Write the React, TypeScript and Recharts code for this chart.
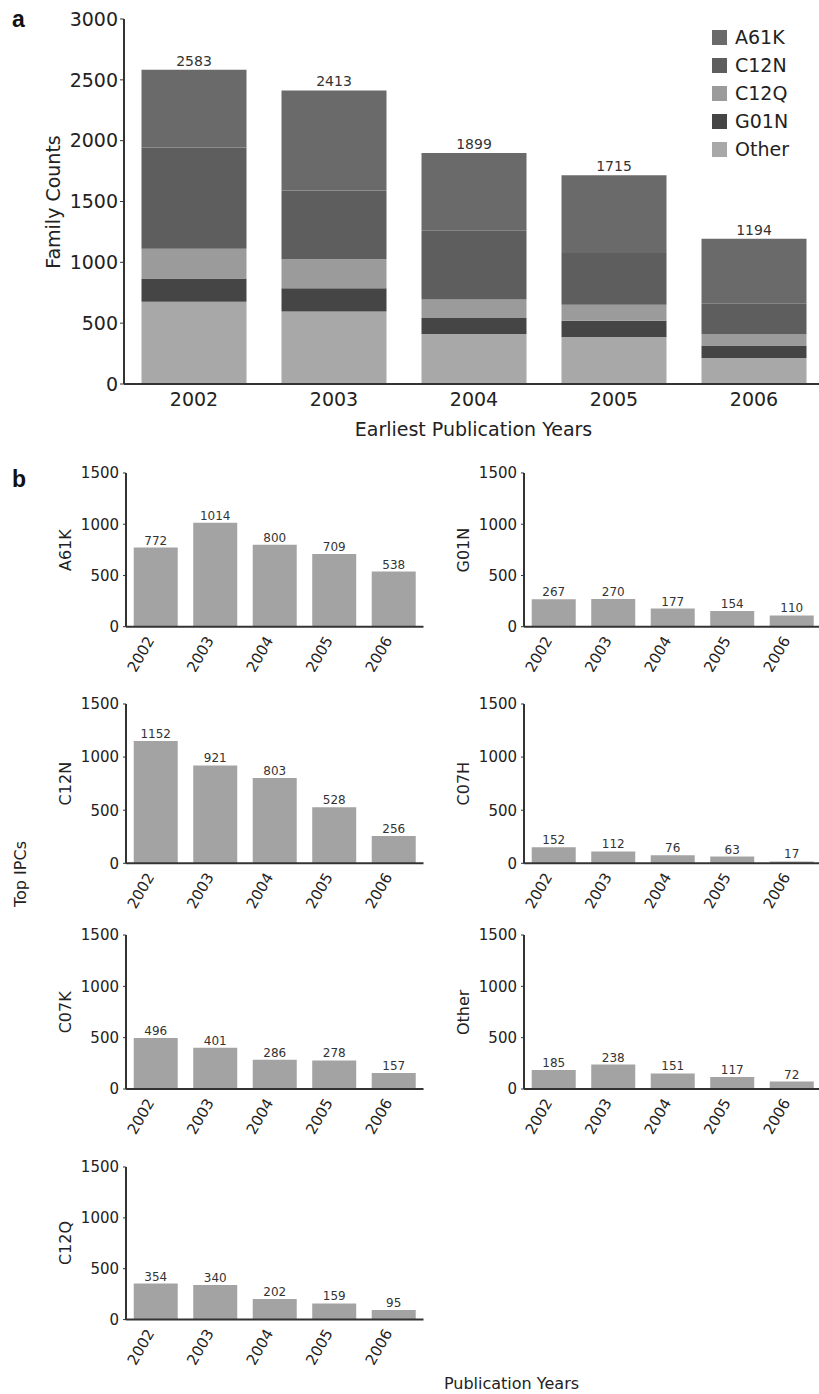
import React from 'react';
import { BarChart, Bar, XAxis, YAxis, LabelList } from 'recharts';

// ---- panel a: stacked family counts ----
const years = ['2002', '2003', '2004', '2005', '2006'];
const otherCounts = [676, 596, 410, 386, 213];
const g01nCounts = [191, 192, 132, 134, 104];
const c12qCounts = [244, 238, 153, 131, 93];
const c12nCounts = [832, 564, 564, 425, 249];
const a61kCounts = [640, 823, 640, 639, 535];
const totalCounts = [2583, 2413, 1899, 1715, 1194];
const stackTicks = [0, 500, 1000, 1500, 2000, 2500, 3000];

// ---- panel b: top IPCs per year ----
const a61kYears = [772, 1014, 800, 709, 538];
const g01nYears = [267, 270, 177, 154, 110];
const c12nYears = [1152, 921, 803, 528, 256];
const c07hYears = [152, 112, 76, 63, 17];
const c07kYears = [496, 401, 286, 278, 157];
const otherYears = [185, 238, 151, 117, 72];
const c12qYears = [354, 340, 202, 159, 95];
const panelTicks = [0, 500, 1000, 1500];

const stackSeries = [
  { key: 'Other', values: otherCounts, color: '#a8a8a8' },
  { key: 'G01N', values: g01nCounts, color: '#454545' },
  { key: 'C12Q', values: c12qCounts, color: '#9b9b9b' },
  { key: 'C12N', values: c12nCounts, color: '#5e5e5e' },
  { key: 'A61K', values: a61kCounts, color: '#6a6a6a' },
];

const stackData = years.map((year, i) => {
  const row: any = { year, total: totalCounts[i] };
  stackSeries.forEach(s => { row[s.key] = s.values[i]; });
  return row;
});

const panels = [
  { code: 'A61K', values: a61kYears, col: 0, row: 0 },
  { code: 'G01N', values: g01nYears, col: 1, row: 0 },
  { code: 'C12N', values: c12nYears, col: 0, row: 1 },
  { code: 'C07H', values: c07hYears, col: 1, row: 1 },
  { code: 'C07K', values: c07kYears, col: 0, row: 2 },
  { code: 'Other', values: otherYears, col: 1, row: 2 },
  { code: 'C12Q', values: c12qYears, col: 0, row: 3 },
];

// layout
const colAxisX = [126, 524];
const rowTop = [473.3, 704, 935.3, 1166.7];
const rowBottom = [627, 863.3, 1089.3, 1319.3];
const yAxisW = 70;
const plotW = 297.5;
const ink = '#222';
const axisStyle = { stroke: '#333', strokeWidth: 2 };

const RotatedTick = ({ x, y, payload }: any) => (
  <text
    transform={`translate(${x - 1},${y + 13.5}) rotate(-60)`}
    textAnchor="end"
    fontSize={15}
    fill={ink}
  >
    {payload.value}
  </text>
);

function IpcPanel({ code, values, col, row }: any) {
  const data = years.map((year, i) => ({ year, value: values[i] }));
  const top = rowTop[row];
  const h = rowBottom[row] - top;
  const labelX = col === 0 ? 65 : 463;
  return (
    <>
      <div style={{ position: 'absolute', left: colAxisX[col] - yAxisW, top: top - 10 }}>
        <BarChart
          width={yAxisW + plotW}
          height={h + 60}
          data={data}
          margin={{ top: 10, right: 0, left: 0, bottom: 0 }}
          barCategoryGap="13%"
        >
          <XAxis
            dataKey="year"
            height={50}
            axisLine={axisStyle}
            tickLine={false}
            tickSize={0}
            tickMargin={0}
            tick={<RotatedTick />}
            interval={0}
          />
          <YAxis
            width={yAxisW}
            domain={[0, 1500]}
            ticks={panelTicks}
            axisLine={axisStyle}
            tickLine={{ stroke: '#333' }}
            tickSize={3}
            tickMargin={4}
            tick={{ fontSize: 15, fill: ink }}
          />
          <Bar dataKey="value" fill="#a3a3a3" isAnimationActive={false}>
            <LabelList dataKey="value" position="top" offset={3} fontSize={12} fill="#333" />
          </Bar>
        </BarChart>
      </div>
      <svg style={{ position: 'absolute', left: 0, top: 0 }} width={819} height={1394} pointerEvents="none">
        <text
          transform={`translate(${labelX},${top + h / 2}) rotate(-90)`}
          textAnchor="middle"
          dominantBaseline="central"
          fontSize={16}
          fill={ink}
        >
          {code}
        </text>
      </svg>
    </>
  );
}

export default function App() {
  const legendRows = [...stackSeries].reverse();
  return (
    <div
      style={{
        position: 'absolute',
        left: 0,
        top: 0,
        width: 819,
        height: 1394,
        overflow: 'hidden',
        background: '#fff',
        fontFamily: '"DejaVu Sans", Verdana, sans-serif',
        color: ink,
      }}
    >
      <div style={{ position: 'absolute', left: 0, top: 0 }}>
        <BarChart
          width={824}
          height={440}
          data={stackData}
          margin={{ top: 19, right: 0, left: 0, bottom: 26 }}
          barCategoryGap="12.5%"
        >
          <XAxis
            dataKey="year"
            height={30}
            axisLine={axisStyle}
            tickLine={false}
            tickSize={0}
            tickMargin={9}
            tick={{ fontSize: 19, fill: ink }}
          />
          <YAxis
            width={124}
            domain={[0, 3000]}
            ticks={stackTicks}
            axisLine={axisStyle}
            tickLine={{ stroke: '#333' }}
            tickSize={4}
            tickMargin={2}
            tick={{ fontSize: 19, fill: ink }}
          />
          {stackSeries.map((s, i) => (
            <Bar key={s.key} dataKey={s.key} stackId="ipc" fill={s.color} isAnimationActive={false}>
              {i === stackSeries.length - 1 && (
                <LabelList dataKey="total" position="top" offset={4} fontSize={14} fill="#333" />
              )}
            </Bar>
          ))}
        </BarChart>
      </div>

      {/* legend for panel a */}
      <div style={{ position: 'absolute', left: 712, top: 23 }}>
        {legendRows.map(s => (
          <div key={s.key} style={{ display: 'flex', alignItems: 'center', height: 28, fontSize: 19 }}>
            <span style={{ width: 15, height: 15, background: s.color, marginRight: 8, display: 'inline-block' }} />
            <span>{s.key}</span>
          </div>
        ))}
      </div>

      {panels.map(p => (
        <IpcPanel key={p.code} {...p} />
      ))}

      <svg style={{ position: 'absolute', left: 0, top: 0 }} width={819} height={1394} pointerEvents="none">
        <text x={12} y={27} fontSize={23} fontWeight="bold" fontFamily="Liberation Sans, Arial, sans-serif" fill="#111">a</text>
        <text x={12} y={487} fontSize={23} fontWeight="bold" fontFamily="Liberation Sans, Arial, sans-serif" fill="#111">b</text>
        <text
          transform="translate(52.5,202) rotate(-90)"
          textAnchor="middle"
          dominantBaseline="central"
          fontSize={19}
          fill={ink}
        >
          Family Counts
        </text>
        <text x={473.5} y={436} textAnchor="middle" fontSize={19} fill={ink}>
          Earliest Publication Years
        </text>
        <text
          transform="translate(20,874) rotate(-90)"
          textAnchor="middle"
          dominantBaseline="central"
          fontSize={16}
          fill={ink}
        >
          Top IPCs
        </text>
        <text x={511.5} y={1389} textAnchor="middle" fontSize={16} fill={ink}>
          Publication Years
        </text>
      </svg>
    </div>
  );
}
